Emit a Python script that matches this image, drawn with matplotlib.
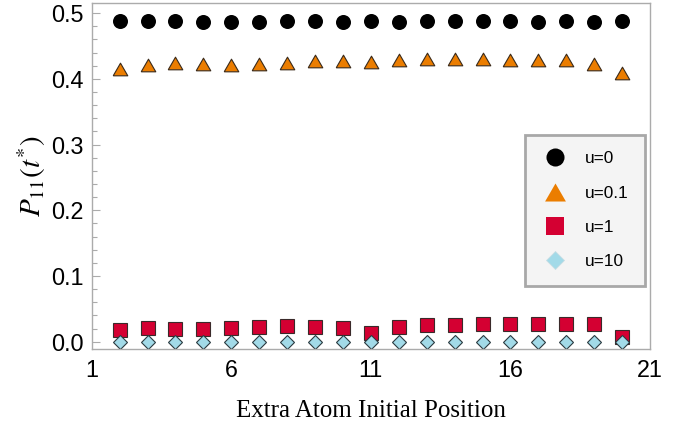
import numpy as np
import matplotlib.pyplot as plt
from matplotlib.lines import Line2D

# Posicion inicial del atomo extra y P11(t*) para cada valor de u
posicion = np.arange(2, 21)

p_u0 = [0.488, 0.488, 0.488, 0.487, 0.487, 0.486, 0.488, 0.488, 0.487, 0.488,
        0.487, 0.488, 0.488, 0.488, 0.488, 0.487, 0.488, 0.486, 0.488]
p_u01 = [0.415, 0.421, 0.424, 0.422, 0.421, 0.423, 0.424, 0.427, 0.427, 0.4255,
         0.428, 0.430, 0.430, 0.430, 0.429, 0.428, 0.428, 0.422, 0.409]
p_u1 = [0.018, 0.021, 0.019, 0.020, 0.0213, 0.0224, 0.024, 0.0224, 0.0213, 0.0127,
        0.0229, 0.025, 0.025, 0.0265, 0.0265, 0.0265, 0.0274, 0.0265, 0.0076]
p_u10 = [0.0] * 19

etiquetas = ['u=0', 'u=0.1', 'u=1', 'u=10']

naranja = '#EB7D00'
rojo = '#D40032'
celeste = '#A2DAE8'
gris = '#ABABAB'

plt.rcParams['mathtext.fontset'] = 'stix'

# triangulo equilatero centrado
triangulo = [(-1, -0.866), (1, -0.866), (0, 0.866), (-1, -0.866)]

fig = plt.figure(figsize=(6.97, 4.26), dpi=100)
ax = fig.add_axes([0.1316, 0.1808, 0.8010, 0.8115])

ax.plot(posicion, p_u0, linestyle='none', marker='o', markersize=10.8,
        color='black', markeredgewidth=0)
ax.plot(posicion, p_u01, linestyle='none', marker=triangulo, markersize=10.5,
        markerfacecolor=naranja, markeredgecolor='#3a2a1a', markeredgewidth=0.8)
ax.plot(posicion, p_u1, linestyle='none', marker='s', markersize=9.6,
        markerfacecolor=rojo, markeredgecolor='#3a2a2a', markeredgewidth=0.8)
ax.plot(posicion, p_u10, linestyle='none', marker='D', markersize=7.4,
        markerfacecolor=celeste, markeredgecolor='#2a3a40', markeredgewidth=0.8)

ax.set_xlim(1, 21)
ax.set_ylim(-0.011, 0.515)
ax.set_xticks([1, 6, 11, 16, 21])
ax.set_yticks([0.0, 0.1, 0.2, 0.3, 0.4, 0.5])
ax.set_yticks(np.arange(0, 0.52, 0.02), minor=True)
ax.set_yticklabels(['0.0', '0.1', '0.2', '0.3', '0.4', '0.5'])

for s in ax.spines.values():
    s.set_color(gris)
    s.set_linewidth(1.0)

ax.tick_params(axis='y', which='major', direction='in', length=6, width=0.8,
               color=gris, pad=6, labelsize=16.8)
ax.tick_params(axis='y', which='minor', direction='in', length=3.5, width=0.8,
               color=gris)
ax.tick_params(axis='x', which='major', direction='in', length=0, pad=7,
               labelsize=16.8)
for lab in ax.get_xticklabels() + ax.get_yticklabels():
    lab.set_family('Liberation Sans')

ax.set_xlabel('Extra Atom Initial Position', family='Liberation Serif',
              fontsize=18, labelpad=13)
ax.set_ylabel(r'$P_{11}(t^{*})$', fontsize=21, labelpad=2)

manejadores = [
    Line2D([], [], linestyle='none', marker='o', markersize=13, color='black',
           markeredgewidth=0),
    Line2D([], [], linestyle='none', marker=triangulo, markersize=15,
           markerfacecolor=naranja, markeredgewidth=0),
    Line2D([], [], linestyle='none', marker='s', markersize=12.5,
           markerfacecolor=rojo, markeredgewidth=0),
    Line2D([], [], linestyle='none', marker='D', markersize=9.5,
           markerfacecolor=celeste, markeredgecolor='#c8dde3', markeredgewidth=0.6),
]
leyenda = ax.legend(manejadores, etiquetas, loc='upper right',
                    bbox_to_anchor=(0.991, 0.619), frameon=True, fancybox=False,
                    prop={'family': 'Liberation Sans', 'size': 12.4},
                    labelspacing=1.12, handlelength=1.5, handletextpad=1.0,
                    borderpad=0.95, borderaxespad=0)
marco = leyenda.get_frame()
marco.set_facecolor('#F4F4F4')
marco.set_edgecolor('#A8A8A8')
marco.set_linewidth(2.0)
marco.set_alpha(1)

fig.savefig('out.png', dpi=100)
